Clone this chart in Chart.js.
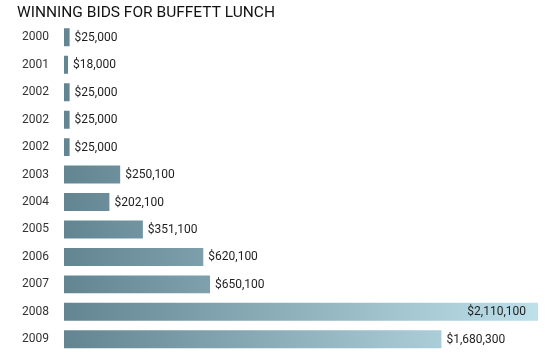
<!DOCTYPE html>
<html>
<head>
<meta charset="utf-8">
<script src="https://cdn.jsdelivr.net/npm/chart.js@4"></script>
<style>
  html, body { margin: 0; padding: 0; background: #fff; }
  #wrap { width: 550px; height: 364px; }
</style>
</head>
<body>
<div id="wrap"><canvas id="chart" width="550" height="364"></canvas></div>
<script>
const TITLE = "WINNING BIDS FOR BUFFETT LUNCH";
const years = ["2000", "2001", "2002", "2002", "2002", "2003", "2004", "2005", "2006", "2007", "2008", "2009"];
const bids = [25000, 18000, 25000, 25000, 25000, 250100, 202100, 351100, 620100, 650100, 2110100, 1680300];
const bidLabels = ["$25,000", "$18,000", "$25,000", "$25,000", "$25,000", "$250,100", "$202,100", "$351,100", "$620,100", "$650,100", "$2,110,100", "$1,680,300"];
const insideLabels = [false, false, false, false, false, false, false, false, false, false, true, false];

const FONT = "Roboto, 'Liberation Sans', sans-serif";

function barGradient(context) {
  const chart = context.chart;
  const area = chart.chartArea;
  if (!area) return "#638591";
  const g = chart.ctx.createLinearGradient(area.left, 0, area.right, 0);
  g.addColorStop(0, "#638591");
  g.addColorStop(1, "#bde0eb");
  return g;
}

const valueLabels = {
  id: "valueLabels",
  afterDatasetsDraw(chart) {
    const ctx = chart.ctx;
    const meta = chart.getDatasetMeta(0);
    ctx.save();
    ctx.font = "12px " + FONT;
    ctx.fillStyle = "#1e1e1e";
    ctx.textBaseline = "middle";
    meta.data.forEach((bar, i) => {
      if (insideLabels[i]) {
        ctx.textAlign = "right";
        ctx.fillText(bidLabels[i], bar.x - 12, bar.y + 0.5);
      } else {
        ctx.textAlign = "left";
        ctx.fillText(bidLabels[i], bar.x + 5, bar.y + 0.5);
      }
    });
    ctx.restore();
  },
};

new Chart(document.getElementById("chart"), {
  type: "bar",
  data: {
    labels: years,
    datasets: [
      {
        data: bids,
        backgroundColor: barGradient,
        borderWidth: 0,
        categoryPercentage: 1,
        barPercentage: 0.655,
      },
    ],
  },
  options: {
    indexAxis: "y",
    responsive: false,
    animation: false,
    layout: { padding: { left: 17, right: 12, top: 0, bottom: 11 } },
    scales: {
      x: {
        display: false,
        min: 0,
        max: 2110100,
      },
      y: {
        afterFit: (scale) => {
          scale.width = 47;
          scale.paddingTop = 0;
          scale.paddingBottom = 0;
        },
        grid: { display: false, drawTicks: false },
        border: { display: false },
        ticks: {
          color: "#333",
          font: { family: FONT, size: 12 },
          padding: 15,
        },
      },
    },
    plugins: {
      legend: { display: false },
      tooltip: { enabled: false },
      title: {
        display: true,
        text: TITLE,
        align: "start",
        color: "#111",
        font: { family: FONT, size: 15.5, weight: "normal", lineHeight: 1.2 },
        padding: { top: 4, bottom: 1 },
      },
    },
  },
  plugins: [valueLabels],
});
</script>
</body>
</html>
